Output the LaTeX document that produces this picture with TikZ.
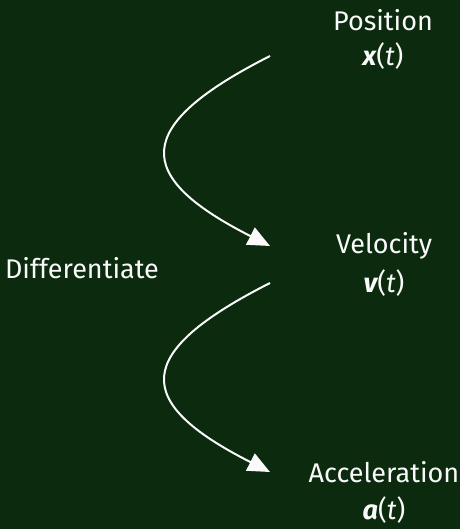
\documentclass[tikz,border=0pt]{standalone}
\usepackage{fontspec}
\setmainfont{Fira Sans}
\usetikzlibrary{arrows.meta,positioning}
\definecolor{board}{RGB}{11,42,14}
\definecolor{chalk}{RGB}{250,250,250}
\tikzset{
  >={Triangle[length=11pt,width=9.5pt]},
  quantity/.style={text=chalk,font=\fontsize{13.5}{16}\selectfont,inner sep=1pt},
  flow/.style={->,line width=1pt,draw=chalk},
}
\newcommand{\qsym}[1]{{\bfseries\itshape #1}(\textit{t})}

\begin{document}
\begin{tikzpicture}
  \fill[board] (0,0) rectangle (230pt,-264.5pt);
  \useasboundingbox (0,0) rectangle (230pt,-264.5pt);
  % quantities
  \node[quantity] (pos) at (191.5pt,-10pt) {Position};
  \node[quantity] (xt) at (191.5pt,-28pt) {\qsym{x}};
  \node[quantity] (vel) at (192pt,-123pt) {Velocity};
  \node[quantity] (vt) at (192pt,-141.5pt) {\qsym{v}};
  \node[quantity] (acc) at (192pt,-236pt) {Acceleration};
  \node[quantity] (at) at (192pt,-255pt) {\qsym{a}};
  \node[quantity] (diff) at (41pt,-134pt) {Differentiate};
  % arrows
  \coordinate (lane) at (135pt,0);
  \draw[flow] (xt -| lane) .. controls +(-69pt,-35pt) and +(-69pt,35pt) .. (vel -| lane);
  \draw[flow] (vt -| lane) .. controls +(-69pt,-35pt) and +(-69pt,35pt) .. (acc -| lane);
\end{tikzpicture}
\end{document}
